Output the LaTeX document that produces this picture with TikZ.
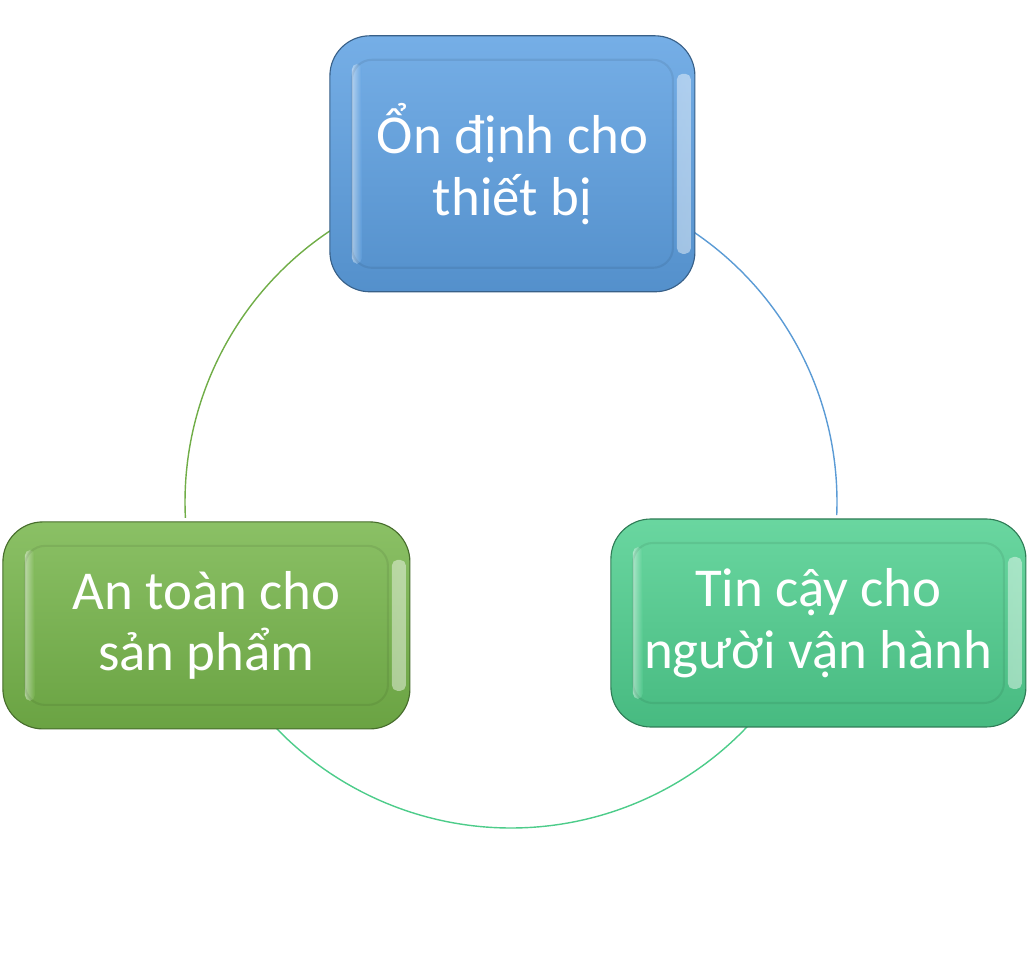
\documentclass[tikz,border=0pt]{standalone}
\usepackage{fontspec}
\setmainfont{Carlito}
\usetikzlibrary{positioning}
\definecolor{boxblue}{HTML}{5DA0E2}
\definecolor{boxgreen}{HTML}{76B54A}
\definecolor{boxteal}{HTML}{4FCF8F}
\definecolor{arcblue}{HTML}{5B9BD5}
\definecolor{arcgreen}{HTML}{70AD47}
\definecolor{arcteal}{HTML}{4DCC8A}
\tikzset{
  cycbox/.style={rounded corners=1cm, draw=#1!60!black, line width=0.8pt,
    top color=#1!85!white, bottom color=#1!90!black, text=white,
    font=\fontsize{39}{44}\selectfont, align=center, inner sep=0pt,
    path picture={
      \shade[left color=#1, right color=white, opacity=.45, rounded corners=4pt]
        ([shift={(-0.45cm,0.95cm)}]path picture bounding box.south east) rectangle
        ([shift={(-0.1cm,-0.95cm)}]path picture bounding box.north east);
      \shade[left color=white, right color=#1, opacity=.45, rounded corners=4pt]
        ([shift={(0.55cm,0.7cm)}]path picture bounding box.south west) rectangle
        ([shift={(0.8cm,-0.7cm)}]path picture bounding box.north west);
      \draw[black, opacity=.07, line width=1.5pt, rounded corners=0.5cm]
        ([shift={(0.55cm,0.6cm)}]path picture bounding box.south west) rectangle
        ([shift={(-0.55cm,-0.6cm)}]path picture bounding box.north east);
    }},
  ring/.style={line width=1pt}
}
\begin{document}
\begin{tikzpicture}
\useasboundingbox (0,0) rectangle (25.7,23.875);
\coordinate (mid) at (12.775,11.325);
\foreach \a/\b/\c in {182.8/122.5/arcgreen, 56.6/-2.3/arcblue, -43/-136.5/arcteal}
  \draw [ring, \c] (mid) ++(\a:8.15) arc [start angle=\a, end angle=\b, radius=8.15];
\node [cycbox=boxblue, minimum width=9.125cm, minimum height=6.4cm] (ondinh) at (12.81,19.78) {Ổn định cho\\thiết bị};
\node [cycbox=boxgreen, minimum width=10.175cm, minimum height=5.175cm] (antoan) at (5.16,8.24) {An toàn cho\\sản phẩm};
\node [cycbox=boxteal, minimum width=10.375cm, minimum height=5.2cm] (tincay) at (20.46,8.30) {Tin cậy cho\\người vận hành};
\end{tikzpicture}
\end{document}
